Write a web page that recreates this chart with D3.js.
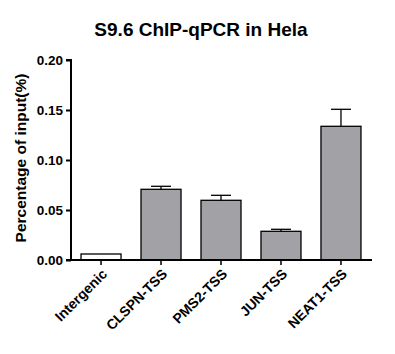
<!DOCTYPE html>
<html><head><meta charset="utf-8">
<script src="https://cdn.jsdelivr.net/npm/d3@7"></script>
<style>body{margin:0;background:#fff}svg{display:block}text{font-family:"Liberation Sans",Arial,sans-serif;font-weight:bold;fill:#000}</style>
</head><body><svg id="c" width="395" height="354"></svg>
<script>
const categories = ["Intergenic","CLSPN-TSS","PMS2-TSS","JUN-TSS","NEAT1-TSS"];
const values = [0.006,0.0707,0.0597,0.0287,0.1337];
const errors = [0,0.003,0.005,0.002,0.017];
const fills = ["#ffffff","#a2a1a6","#a2a1a6","#a2a1a6","#a2a1a6"];
const yTicks = [0,0.05,0.10,0.15,0.20];
const title = "S9.6 ChIP-qPCR in Hela";
const yLabel = "Percentage of input(%)";

const svg = d3.select("#c");
const x = d3.scaleBand().domain(categories).range([71,371]).paddingInner(0.333).paddingOuter(0.167);
const y = d3.scaleLinear().domain([0,0.2]).range([260,60]);

svg.append("text").attr("x",201).attr("y",36).attr("text-anchor","middle").attr("font-size",19).text(title);
svg.append("text").attr("transform","translate(26,158) rotate(-90)").attr("text-anchor","middle").attr("font-size",15.5).text(yLabel);

const g = svg.append("g");
g.selectAll("rect").data(categories).join("rect")
 .attr("x",d=>x(d)).attr("width",x.bandwidth())
 .attr("y",(d,i)=>y(values[i])).attr("height",(d,i)=>y(0)-y(values[i]))
 .attr("fill",(d,i)=>fills[i]).attr("stroke","#000").attr("stroke-width",1.3);

categories.forEach((c,i)=>{
  if(!errors[i]) return;
  const cx = x(c)+x.bandwidth()/2, w = x.bandwidth()/4;
  g.append("line").attr("x1",cx).attr("x2",cx).attr("y1",y(values[i])).attr("y2",y(values[i]+errors[i])).attr("stroke","#000").attr("stroke-width",1.3);
  g.append("line").attr("x1",cx-w).attr("x2",cx+w).attr("y1",y(values[i]+errors[i])).attr("y2",y(values[i]+errors[i])).attr("stroke","#000").attr("stroke-width",1.3);
});

const ya = svg.append("g").attr("transform","translate(71,0)")
 .call(d3.axisLeft(y).tickValues(yTicks).tickFormat(d3.format(".2f")).tickSize(5).tickPadding(3));
ya.select(".domain").attr("stroke-width",2).attr("d","M-5,60H0V260H-5");
ya.selectAll(".tick line").attr("stroke-width",2);
ya.selectAll(".tick text").attr("font-size",13.5).attr("font-family","Liberation Sans, Arial").attr("font-weight","bold");

const xa = svg.append("g").attr("transform","translate(0,260)")
 .call(d3.axisBottom(x).tickSize(5).tickSizeOuter(0));
xa.select(".domain").attr("stroke-width",2).attr("d","M70,0H372");
xa.selectAll(".tick line").attr("stroke-width",1.5);
xa.selectAll(".tick text").attr("font-size",14).attr("font-family","Liberation Sans, Arial").attr("font-weight","bold")
 .attr("text-anchor","end").attr("y",0).attr("dy",0).attr("transform","translate(7,15) rotate(-45)");
</script></body></html>
